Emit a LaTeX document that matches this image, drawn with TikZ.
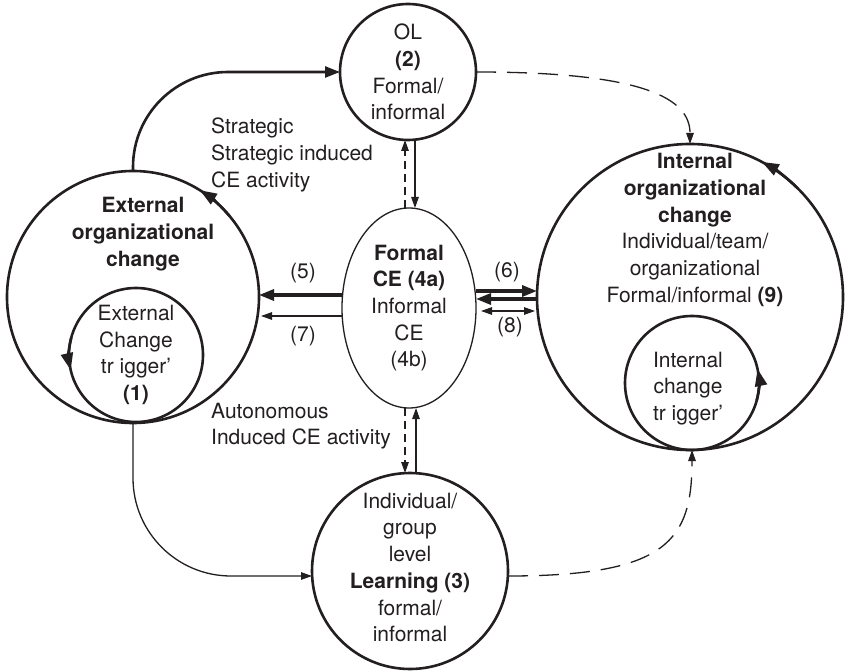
\documentclass[tikz,border=0pt]{standalone}
\usepackage{fontspec}
\setmainfont{TeX Gyre Heros}
\usetikzlibrary{arrows.meta,shapes.geometric,calc}
\definecolor{ink}{HTML}{231F20}
\begin{document}
\begin{tikzpicture}[x=1pt,y=1pt,line join=round,
  every node/.style={text=ink,font=\fontsize{21}{26.7}\selectfont},
  heavy/.style={draw=ink,line width=2.6pt},
  heavier/.style={draw=ink,line width=3.2pt},
  light/.style={draw=ink,line width=1.3pt},
  ring/.style={circle,heavy,outer sep=0pt,inner sep=0pt,align=center},
  longdash/.style={dash pattern=on 20pt off 11pt},
  shortdash/.style={dash pattern=on 8pt off 5pt},
  bigtip/.style={-{Triangle[length=15pt,width=11pt]}},
  smalltip/.style={-{Triangle[length=11pt,width=7.5pt]}},
  looptip/.style={-{Triangle[length=17pt,width=12pt]}},
  caption/.style={align=left,anchor=west,inner sep=0pt}]
\fill[white] (0,0) rectangle (845,670);
\useasboundingbox (0,0) rectangle (845,670);

% circles and the central ellipse
\node[ring,minimum size=136pt] (ol) at (408,598) {OL\\\textbf{(2)}\\Formal/\\informal};
\node[ring,minimum size=252pt] (ext) at (133,373) {};
\node[ring,minimum size=134pt] (extT) at (136,315) {External\\Change\\tr igger’\\\textbf{(1)}};
\node[ellipse,light,minimum width=134pt,minimum height=200pt,inner sep=0pt,outer sep=0pt,align=center]
  (ce) at (409,362) {\textbf{Formal}\\\textbf{CE (4a)}\\Informal\\CE\\(4b)};
\node[ring,minimum size=306pt] (int) at (690,373) {};
\node[ring,minimum size=134pt] (intT) at (692,287) {};
\node[ring,minimum size=196pt] (learn) at (410,99) {};

% texts inside the circles
\node[align=center] (extTxt) at (143,436) {\textbf{External}\\\textbf{organizational}\\\textbf{change}};
\node[align=center] (intTxt) at (695,440) {\textbf{Internal}\\\textbf{organizational}\\\textbf{change}\\Individual/team/\\organizational\\Formal/informal \textbf{(9)}};
\node[align=center] (intTTxt) at (688,281.5) {Internal\\change\\tr igger’};
\node[align=center] (learnTxt) at (410,102.5) {Individual/\\group\\level\\\textbf{Learning (3)}\\formal/\\informal};

% free captions
\node[caption] (strat) at (211,515) {Strategic\\Strategic induced\\CE activity};
\node[caption] (auto) at (211,244) {Autonomous\\Induced CE activity};
\node (n5) at (303,397) {(5)};
\node (n7) at (303,334) {(7)};
\node (n6) at (507,398) {(6)};
\node (n8) at (510,343) {(8)};

% direction marks on the circles
\draw[heavy,looptip] ($(ext.center)+(40:126)$) arc[start angle=40,end angle=58,radius=126];
\draw[heavy,looptip] ($(extT.center)+(165:67)$) arc[start angle=165,end angle=193,radius=67];
\draw[heavy,looptip] ($(int.center)+(45:153)$) arc[start angle=45,end angle=62,radius=153];
\draw[heavy,looptip] ($(intT.center)+(-15:67)$) arc[start angle=-15,end angle=12,radius=67];

% external change to OL and to learning
\draw[heavy,rounded corners=95pt,bigtip] (ext.north) |- (ol.west);
\coordinate (lw) at ([yshift=-5pt]learn.west);
\draw[light,rounded corners=98pt,smalltip] (ext.south) |- (lw);

% dashed links into internal change
\draw[light,longdash,smalltip] (ol.east) .. controls +(170,0) and +(0,45) .. (int.north);
\coordinate (le) at ([yshift=-5pt]learn.east);
\draw[light,longdash,smalltip] (le) .. controls +(160,0) and +(0,-90) .. (intT.south);

% vertical links of the CE ellipse
\coordinate (u1) at ([xshift=-4pt]ce.north);
\coordinate (u2) at ([xshift=6pt]ce.north);
\draw[light,shortdash,smalltip] (u1) -- (u1 |- ol.south);
\draw[light,smalltip] (u2 |- ol.south) -- (u2);
\coordinate (d1) at ([xshift=-4pt]ce.south);
\coordinate (d2) at ([xshift=7pt]ce.south);
\draw[light,shortdash,smalltip] (d1) -- (d1 |- learn.north);
\draw[light,smalltip] (d2 |- learn.north) -- (d2);

% horizontal links (5) and (7)
\coordinate (p5) at ([yshift=13pt]ce.west);
\draw[heavier,bigtip] (p5) -- (p5 -| ext.east);
\coordinate (p7) at ([yshift=-8pt]ce.west);
\path (p7 -| ext.east) coordinate (q7);
\draw[light,smalltip] (p7) -- ([xshift=2pt]q7);

% horizontal links (6) and (8)
\coordinate (p6) at ([yshift=17pt]ce.east);
\draw[heavier,bigtip] (p6) -- (p6 -| int.west);
\coordinate (p6b) at ([yshift=9pt]ce.east);
\draw[heavier,bigtip] (p6b -| int.west) -- (p6b);
\coordinate (p8) at ([yshift=-3pt]ce.east);
\path (p8 -| int.west) coordinate (q8);
\draw[light,{Triangle[length=11pt,width=7.5pt]}-{Triangle[length=11pt,width=7.5pt]}]
  ([xshift=5pt]p8) -- ([xshift=-2pt]q8);
\end{tikzpicture}
\end{document}
